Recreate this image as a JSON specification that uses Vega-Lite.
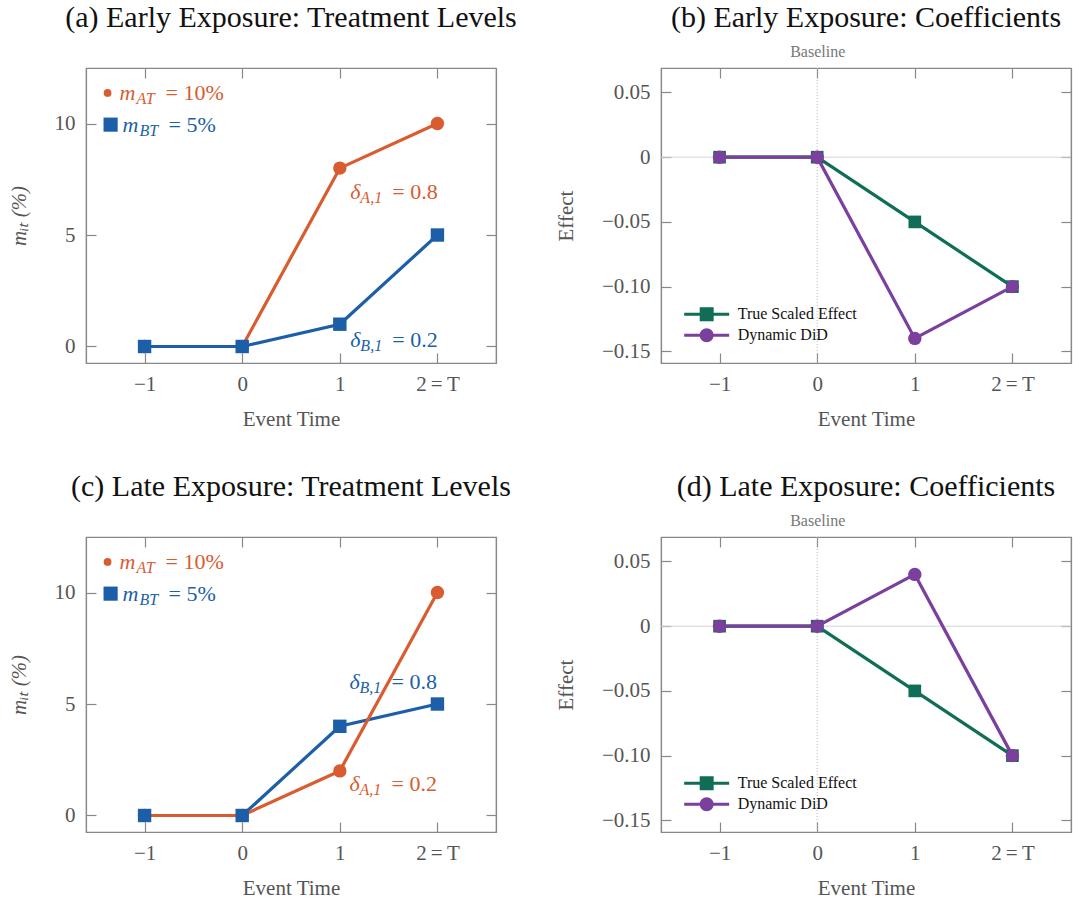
{
  "$schema": "https://vega.github.io/schema/vega-lite/v6.json",
  "background": "white",
  "padding": {"left": 7, "top": 2, "right": 2, "bottom": 2},
  "datasets": {
    "lines": [
      {"panel": "a", "series": "A", "t": -1, "v": 0},
      {"panel": "a", "series": "A", "t": 0, "v": 0},
      {"panel": "a", "series": "A", "t": 1, "v": 8},
      {"panel": "a", "series": "A", "t": 2, "v": 10},
      {"panel": "a", "series": "B", "t": -1, "v": 0},
      {"panel": "a", "series": "B", "t": 0, "v": 0},
      {"panel": "a", "series": "B", "t": 1, "v": 1},
      {"panel": "a", "series": "B", "t": 2, "v": 5},
      {"panel": "c", "series": "A", "t": -1, "v": 0},
      {"panel": "c", "series": "A", "t": 0, "v": 0},
      {"panel": "c", "series": "A", "t": 1, "v": 2},
      {"panel": "c", "series": "A", "t": 2, "v": 10},
      {"panel": "c", "series": "B", "t": -1, "v": 0},
      {"panel": "c", "series": "B", "t": 0, "v": 0},
      {"panel": "c", "series": "B", "t": 1, "v": 4},
      {"panel": "c", "series": "B", "t": 2, "v": 5},
      {"panel": "b", "series": "True Scaled Effect", "t": -1, "v": 0},
      {"panel": "b", "series": "True Scaled Effect", "t": 0, "v": 0},
      {"panel": "b", "series": "True Scaled Effect", "t": 1, "v": -0.05},
      {"panel": "b", "series": "True Scaled Effect", "t": 2, "v": -0.1},
      {"panel": "b", "series": "Dynamic DiD", "t": -1, "v": 0},
      {"panel": "b", "series": "Dynamic DiD", "t": 0, "v": 0},
      {"panel": "b", "series": "Dynamic DiD", "t": 1, "v": -0.14},
      {"panel": "b", "series": "Dynamic DiD", "t": 2, "v": -0.1},
      {"panel": "d", "series": "True Scaled Effect", "t": -1, "v": 0},
      {"panel": "d", "series": "True Scaled Effect", "t": 0, "v": 0},
      {"panel": "d", "series": "True Scaled Effect", "t": 1, "v": -0.05},
      {"panel": "d", "series": "True Scaled Effect", "t": 2, "v": -0.1},
      {"panel": "d", "series": "Dynamic DiD", "t": -1, "v": 0},
      {"panel": "d", "series": "Dynamic DiD", "t": 0, "v": 0},
      {"panel": "d", "series": "Dynamic DiD", "t": 1, "v": 0.04},
      {"panel": "d", "series": "Dynamic DiD", "t": 2, "v": -0.1}
    ],
    "notes": [
      {"panel": "a", "kind": "key", "grp": "A", "x": -1.379, "y": 11.37, "sym": "m", "sub": "AT", "rest": "= 10%"},
      {"panel": "a", "kind": "key", "grp": "B", "x": -1.348, "y": 9.95, "sym": "m", "sub": "BT", "rest": "= 5%"},
      {"panel": "a", "kind": "delta", "grp": "A", "x": 1.108, "y": 6.95, "sym": "δ", "sub": "A,1", "rest": "= 0.8"},
      {"panel": "a", "kind": "delta", "grp": "B", "x": 1.108, "y": 0.28, "sym": "δ", "sub": "B,1", "rest": "= 0.2"},
      {"panel": "c", "kind": "key", "grp": "A", "x": -1.379, "y": 11.37, "sym": "m", "sub": "AT", "rest": "= 10%"},
      {"panel": "c", "kind": "key", "grp": "B", "x": -1.348, "y": 9.95, "sym": "m", "sub": "BT", "rest": "= 5%"},
      {"panel": "c", "kind": "delta", "grp": "B", "x": 1.1, "y": 6.0, "sym": "δ", "sub": "B,1", "rest": "= 0.8"},
      {"panel": "c", "kind": "delta", "grp": "A", "x": 1.1, "y": 1.4, "sym": "δ", "sub": "A,1", "rest": "= 0.2"}
    ],
    "keys": [
      {"panel": "b", "series": "True Scaled Effect", "x": -1.132, "y": -0.1213},
      {"panel": "b", "series": "Dynamic DiD", "x": -1.132, "y": -0.1375},
      {"panel": "d", "series": "True Scaled Effect", "x": -1.132, "y": -0.1213},
      {"panel": "d", "series": "Dynamic DiD", "x": -1.132, "y": -0.1375}
    ],
    "origin": [{"ref": 0}]
  },
  "concat": [
    {
      "width": 410, "height": 295,
      "title": {"text": "(a) Early Exposure: Treatment Levels", "offset": 34},
      "layer": [
        {"data": {"name": "notes"}, "transform": [{"filter": "datum.panel == 'a' && datum.kind == 'key'"}],
         "mark": {"type": "text", "align": "left", "baseline": "middle", "fontSize": 22, "fontStyle": "italic", "dx": 12},
         "encoding": {"x": {"field": "x", "type": "quantitative", "scale": {"domain": [-1.6, 2.6], "nice": false, "zero": false}, "axis": null},
                      "y": {"field": "y", "type": "quantitative", "scale": {"domain": [-0.74, 12.49], "nice": false, "zero": false}, "axis": null},
                      "text": {"field": "sym"},
                      "color": {"field": "grp", "type": "nominal", "scale": {"domain": ["A", "B"], "range": ["#D95B30", "#1C5FA8"]}, "legend": null}}},
        {"data": {"name": "notes"}, "transform": [{"filter": "datum.panel == 'a' && datum.kind == 'key'"}],
         "mark": {"type": "text", "align": "left", "baseline": "middle", "fontSize": 16, "fontStyle": "italic", "dx": 29, "dy": 6},
         "encoding": {"x": {"field": "x", "type": "quantitative", "scale": {"domain": [-1.6, 2.6], "nice": false, "zero": false}, "axis": null},
                      "y": {"field": "y", "type": "quantitative", "scale": {"domain": [-0.74, 12.49], "nice": false, "zero": false}, "axis": null},
                      "text": {"field": "sub"},
                      "color": {"field": "grp", "type": "nominal", "scale": {"domain": ["A", "B"], "range": ["#D95B30", "#1C5FA8"]}, "legend": null}}},
        {"data": {"name": "notes"}, "transform": [{"filter": "datum.panel == 'a' && datum.kind == 'key'"}],
         "mark": {"type": "text", "align": "left", "baseline": "middle", "fontSize": 22, "dx": 58},
         "encoding": {"x": {"field": "x", "type": "quantitative", "scale": {"domain": [-1.6, 2.6], "nice": false, "zero": false}, "axis": null},
                      "y": {"field": "y", "type": "quantitative", "scale": {"domain": [-0.74, 12.49], "nice": false, "zero": false}, "axis": null},
                      "text": {"field": "rest"},
                      "color": {"field": "grp", "type": "nominal", "scale": {"domain": ["A", "B"], "range": ["#D95B30", "#1C5FA8"]}, "legend": null}}},
        {"data": {"name": "notes"}, "transform": [{"filter": "datum.panel == 'a' && datum.kind == 'delta'"}],
         "mark": {"type": "text", "align": "left", "baseline": "middle", "fontSize": 22, "fontStyle": "italic"},
         "encoding": {"x": {"field": "x", "type": "quantitative", "scale": {"domain": [-1.6, 2.6], "nice": false, "zero": false}, "axis": null},
                      "y": {"field": "y", "type": "quantitative", "scale": {"domain": [-0.74, 12.49], "nice": false, "zero": false}, "axis": null},
                      "text": {"field": "sym"},
                      "color": {"field": "grp", "type": "nominal", "scale": {"domain": ["A", "B"], "range": ["#D95B30", "#1C5FA8"]}, "legend": null}}},
        {"data": {"name": "notes"}, "transform": [{"filter": "datum.panel == 'a' && datum.kind == 'delta'"}],
         "mark": {"type": "text", "align": "left", "baseline": "middle", "fontSize": 16, "fontStyle": "italic", "dx": 10, "dy": 6},
         "encoding": {"x": {"field": "x", "type": "quantitative", "scale": {"domain": [-1.6, 2.6], "nice": false, "zero": false}, "axis": null},
                      "y": {"field": "y", "type": "quantitative", "scale": {"domain": [-0.74, 12.49], "nice": false, "zero": false}, "axis": null},
                      "text": {"field": "sub"},
                      "color": {"field": "grp", "type": "nominal", "scale": {"domain": ["A", "B"], "range": ["#D95B30", "#1C5FA8"]}, "legend": null}}},
        {"data": {"name": "notes"}, "transform": [{"filter": "datum.panel == 'a' && datum.kind == 'delta'"}],
         "mark": {"type": "text", "align": "left", "baseline": "middle", "fontSize": 22, "dx": 42},
         "encoding": {"x": {"field": "x", "type": "quantitative", "scale": {"domain": [-1.6, 2.6], "nice": false, "zero": false}, "axis": null},
                      "y": {"field": "y", "type": "quantitative", "scale": {"domain": [-0.74, 12.49], "nice": false, "zero": false}, "axis": null},
                      "text": {"field": "rest"},
                      "color": {"field": "grp", "type": "nominal", "scale": {"domain": ["A", "B"], "range": ["#D95B30", "#1C5FA8"]}, "legend": null}}},
        {"data": {"name": "notes"}, "transform": [{"filter": "datum.panel == 'a' && datum.kind == 'key' && datum.grp == 'A'"}],
         "mark": {"type": "point", "shape": "circle", "filled": true, "size": 60, "color": "#D95B30", "opacity": 1},
         "encoding": {"x": {"field": "x", "type": "quantitative", "scale": {"domain": [-1.6, 2.6], "nice": false, "zero": false}, "axis": null},
                      "y": {"field": "y", "type": "quantitative", "scale": {"domain": [-0.74, 12.49], "nice": false, "zero": false}, "axis": null}}},
        {"data": {"name": "notes"}, "transform": [{"filter": "datum.panel == 'a' && datum.kind == 'key' && datum.grp == 'B'"}],
         "mark": {"type": "point", "shape": "square", "filled": true, "size": 200, "color": "#1C5FA8", "opacity": 1},
         "encoding": {"x": {"field": "x", "type": "quantitative", "scale": {"domain": [-1.6, 2.6], "nice": false, "zero": false}, "axis": null},
                      "y": {"field": "y", "type": "quantitative", "scale": {"domain": [-0.74, 12.49], "nice": false, "zero": false}, "axis": null}}},
        {"data": {"name": "lines"}, "transform": [{"filter": "datum.panel == 'a' && datum.series == 'A'"}],
         "mark": {"type": "line", "color": "#D95B30", "strokeWidth": 3.2},
         "encoding": {"x": {"field": "t", "type": "quantitative", "scale": {"domain": [-1.6, 2.6], "nice": false, "zero": false}, "axis": {"orient": "bottom", "values": [-1, 0, 1, 2], "title": "Event Time", "labelExpr": "datum.value == 2 ? '2\u2009=\u2009T' : datum.label"}},
                      "y": {"field": "v", "type": "quantitative", "scale": {"domain": [-0.74, 12.49], "nice": false, "zero": false}, "axis": {"orient": "left", "values": [0, 5, 10], "title": "mᵢₜ (%)", "titleFontStyle": "italic"}}}},
        {"data": {"name": "lines"}, "transform": [{"filter": "datum.panel == 'a' && datum.series == 'A'"}],
         "mark": {"type": "point", "shape": "circle", "filled": true, "size": 180, "color": "#D95B30", "opacity": 1},
         "encoding": {"x": {"field": "t", "type": "quantitative", "scale": {"domain": [-1.6, 2.6], "nice": false, "zero": false}, "axis": null},
                      "y": {"field": "v", "type": "quantitative", "scale": {"domain": [-0.74, 12.49], "nice": false, "zero": false}, "axis": null}}},
        {"data": {"name": "lines"}, "transform": [{"filter": "datum.panel == 'a' && datum.series == 'B'"}],
         "mark": {"type": "line", "color": "#1C5FA8", "strokeWidth": 3.2},
         "encoding": {"x": {"field": "t", "type": "quantitative", "scale": {"domain": [-1.6, 2.6], "nice": false, "zero": false}, "axis": {"orient": "top", "values": [-1, 0, 1, 2], "labels": false, "title": null}},
                      "y": {"field": "v", "type": "quantitative", "scale": {"domain": [-0.74, 12.49], "nice": false, "zero": false}, "axis": {"orient": "right", "values": [0, 5, 10], "labels": false, "title": null}}}},
        {"data": {"name": "lines"}, "transform": [{"filter": "datum.panel == 'a' && datum.series == 'B'"}],
         "mark": {"type": "point", "shape": "square", "filled": true, "size": 180, "color": "#1C5FA8", "opacity": 1},
         "encoding": {"x": {"field": "t", "type": "quantitative", "scale": {"domain": [-1.6, 2.6], "nice": false, "zero": false}, "axis": null},
                      "y": {"field": "v", "type": "quantitative", "scale": {"domain": [-0.74, 12.49], "nice": false, "zero": false}, "axis": null}}}
      ],
      "resolve": {"axis": {"x": "independent", "y": "independent"}}
    },
    {
      "width": 410, "height": 295,
      "title": {"text": "(b) Early Exposure: Coefficients", "offset": 10},
      "layer": [
        {"data": {"name": "origin"},
         "mark": {"type": "rule", "color": "#d4d4d4", "strokeWidth": 1},
         "encoding": {"y": {"field": "ref", "type": "quantitative", "scale": {"domain": [-0.159, 0.0689], "nice": false, "zero": false}, "axis": null}}},
        {"data": {"name": "origin"},
         "mark": {"type": "rule", "color": "#b8b8b8", "strokeWidth": 1, "strokeDash": [1, 2]},
         "encoding": {"x": {"field": "ref", "type": "quantitative", "scale": {"domain": [-1.6, 2.6], "nice": false, "zero": false}, "axis": null}}},
        {"data": {"name": "lines"}, "transform": [{"filter": "datum.panel == 'b' && datum.series == 'True Scaled Effect'"}],
         "mark": {"type": "line", "color": "#0F6E55", "strokeWidth": 3.2},
         "encoding": {"x": {"field": "t", "type": "quantitative", "scale": {"domain": [-1.6, 2.6], "nice": false, "zero": false}, "axis": {"orient": "bottom", "values": [-1, 0, 1, 2], "title": "Event Time", "labelExpr": "datum.value == 2 ? '2\u2009=\u2009T' : datum.label"}},
                      "y": {"field": "v", "type": "quantitative", "scale": {"domain": [-0.159, 0.0689], "nice": false, "zero": false}, "axis": {"orient": "left", "values": [-0.15, -0.1, -0.05, 0, 0.05], "title": "Effect", "labelExpr": "datum.value == 0 ? '0' : format(datum.value, '.2f')"}}}},
        {"data": {"name": "lines"}, "transform": [{"filter": "datum.panel == 'b' && datum.series == 'True Scaled Effect'"}],
         "mark": {"type": "point", "shape": "square", "filled": true, "size": 160, "color": "#0F6E55", "opacity": 1},
         "encoding": {"x": {"field": "t", "type": "quantitative", "scale": {"domain": [-1.6, 2.6], "nice": false, "zero": false}, "axis": null},
                      "y": {"field": "v", "type": "quantitative", "scale": {"domain": [-0.159, 0.0689], "nice": false, "zero": false}, "axis": null}}},
        {"data": {"name": "lines"}, "transform": [{"filter": "datum.panel == 'b' && datum.series == 'Dynamic DiD'"}],
         "mark": {"type": "line", "color": "#7B3F9E", "strokeWidth": 3.2},
         "encoding": {"x": {"field": "t", "type": "quantitative", "scale": {"domain": [-1.6, 2.6], "nice": false, "zero": false}, "axis": {"orient": "top", "values": [-1, 0, 1, 2], "title": null, "labelExpr": "datum.value == 0 ? 'Baseline' : ''", "labelFontSize": 16, "labelColor": "#777777", "labelPadding": 19}},
                      "y": {"field": "v", "type": "quantitative", "scale": {"domain": [-0.159, 0.0689], "nice": false, "zero": false}, "axis": {"orient": "right", "values": [-0.15, -0.1, -0.05, 0, 0.05], "labels": false, "title": null}}}},
        {"data": {"name": "lines"}, "transform": [{"filter": "datum.panel == 'b' && datum.series == 'Dynamic DiD'"}],
         "mark": {"type": "point", "shape": "circle", "filled": true, "size": 180, "color": "#7B3F9E", "opacity": 1},
         "encoding": {"x": {"field": "t", "type": "quantitative", "scale": {"domain": [-1.6, 2.6], "nice": false, "zero": false}, "axis": null},
                      "y": {"field": "v", "type": "quantitative", "scale": {"domain": [-0.159, 0.0689], "nice": false, "zero": false}, "axis": null}}},
        {"data": {"name": "keys"}, "transform": [{"filter": "datum.panel == 'b' && datum.series == 'True Scaled Effect'"}],
         "mark": {"type": "point", "filled": true, "size": 2025, "opacity": 1, "strokeWidth": 0, "color": "#0F6E55", "shape": "M-1,-0.067H1V0.067H-1Z M-0.31,-0.31H0.31V0.31H-0.31Z"},
         "encoding": {"x": {"field": "x", "type": "quantitative", "scale": {"domain": [-1.6, 2.6], "nice": false, "zero": false}, "axis": null},
                      "y": {"field": "y", "type": "quantitative", "scale": {"domain": [-0.159, 0.0689], "nice": false, "zero": false}, "axis": null}}},
        {"data": {"name": "keys"}, "transform": [{"filter": "datum.panel == 'b' && datum.series == 'Dynamic DiD'"}],
         "mark": {"type": "point", "filled": true, "size": 2025, "opacity": 1, "strokeWidth": 0, "color": "#7B3F9E", "shape": "M-1,-0.067H1V0.067H-1Z M-0.31,0A0.31,0.31 0 1,1 0.31,0A0.31,0.31 0 1,1 -0.31,0Z"},
         "encoding": {"x": {"field": "x", "type": "quantitative", "scale": {"domain": [-1.6, 2.6], "nice": false, "zero": false}, "axis": null},
                      "y": {"field": "y", "type": "quantitative", "scale": {"domain": [-0.159, 0.0689], "nice": false, "zero": false}, "axis": null}}},
        {"data": {"name": "keys"}, "transform": [{"filter": "datum.panel == 'b'"}],
         "mark": {"type": "text", "align": "left", "baseline": "middle", "fontSize": 16, "color": "#111111", "dx": 31},
         "encoding": {"x": {"field": "x", "type": "quantitative", "scale": {"domain": [-1.6, 2.6], "nice": false, "zero": false}, "axis": null},
                      "y": {"field": "y", "type": "quantitative", "scale": {"domain": [-0.159, 0.0689], "nice": false, "zero": false}, "axis": null},
                      "text": {"field": "series"}}}
      ],
      "resolve": {"axis": {"x": "independent", "y": "independent"}}
    },
    {
      "width": 410, "height": 295,
      "title": {"text": "(c) Late Exposure: Treatment Levels", "offset": 34},
      "layer": [
        {"data": {"name": "notes"}, "transform": [{"filter": "datum.panel == 'c' && datum.kind == 'key'"}],
         "mark": {"type": "text", "align": "left", "baseline": "middle", "fontSize": 22, "fontStyle": "italic", "dx": 12},
         "encoding": {"x": {"field": "x", "type": "quantitative", "scale": {"domain": [-1.6, 2.6], "nice": false, "zero": false}, "axis": null},
                      "y": {"field": "y", "type": "quantitative", "scale": {"domain": [-0.74, 12.49], "nice": false, "zero": false}, "axis": null},
                      "text": {"field": "sym"},
                      "color": {"field": "grp", "type": "nominal", "scale": {"domain": ["A", "B"], "range": ["#D95B30", "#1C5FA8"]}, "legend": null}}},
        {"data": {"name": "notes"}, "transform": [{"filter": "datum.panel == 'c' && datum.kind == 'key'"}],
         "mark": {"type": "text", "align": "left", "baseline": "middle", "fontSize": 16, "fontStyle": "italic", "dx": 29, "dy": 6},
         "encoding": {"x": {"field": "x", "type": "quantitative", "scale": {"domain": [-1.6, 2.6], "nice": false, "zero": false}, "axis": null},
                      "y": {"field": "y", "type": "quantitative", "scale": {"domain": [-0.74, 12.49], "nice": false, "zero": false}, "axis": null},
                      "text": {"field": "sub"},
                      "color": {"field": "grp", "type": "nominal", "scale": {"domain": ["A", "B"], "range": ["#D95B30", "#1C5FA8"]}, "legend": null}}},
        {"data": {"name": "notes"}, "transform": [{"filter": "datum.panel == 'c' && datum.kind == 'key'"}],
         "mark": {"type": "text", "align": "left", "baseline": "middle", "fontSize": 22, "dx": 58},
         "encoding": {"x": {"field": "x", "type": "quantitative", "scale": {"domain": [-1.6, 2.6], "nice": false, "zero": false}, "axis": null},
                      "y": {"field": "y", "type": "quantitative", "scale": {"domain": [-0.74, 12.49], "nice": false, "zero": false}, "axis": null},
                      "text": {"field": "rest"},
                      "color": {"field": "grp", "type": "nominal", "scale": {"domain": ["A", "B"], "range": ["#D95B30", "#1C5FA8"]}, "legend": null}}},
        {"data": {"name": "notes"}, "transform": [{"filter": "datum.panel == 'c' && datum.kind == 'delta'"}],
         "mark": {"type": "text", "align": "left", "baseline": "middle", "fontSize": 22, "fontStyle": "italic"},
         "encoding": {"x": {"field": "x", "type": "quantitative", "scale": {"domain": [-1.6, 2.6], "nice": false, "zero": false}, "axis": null},
                      "y": {"field": "y", "type": "quantitative", "scale": {"domain": [-0.74, 12.49], "nice": false, "zero": false}, "axis": null},
                      "text": {"field": "sym"},
                      "color": {"field": "grp", "type": "nominal", "scale": {"domain": ["A", "B"], "range": ["#D95B30", "#1C5FA8"]}, "legend": null}}},
        {"data": {"name": "notes"}, "transform": [{"filter": "datum.panel == 'c' && datum.kind == 'delta'"}],
         "mark": {"type": "text", "align": "left", "baseline": "middle", "fontSize": 16, "fontStyle": "italic", "dx": 10, "dy": 6},
         "encoding": {"x": {"field": "x", "type": "quantitative", "scale": {"domain": [-1.6, 2.6], "nice": false, "zero": false}, "axis": null},
                      "y": {"field": "y", "type": "quantitative", "scale": {"domain": [-0.74, 12.49], "nice": false, "zero": false}, "axis": null},
                      "text": {"field": "sub"},
                      "color": {"field": "grp", "type": "nominal", "scale": {"domain": ["A", "B"], "range": ["#D95B30", "#1C5FA8"]}, "legend": null}}},
        {"data": {"name": "notes"}, "transform": [{"filter": "datum.panel == 'c' && datum.kind == 'delta'"}],
         "mark": {"type": "text", "align": "left", "baseline": "middle", "fontSize": 22, "dx": 42},
         "encoding": {"x": {"field": "x", "type": "quantitative", "scale": {"domain": [-1.6, 2.6], "nice": false, "zero": false}, "axis": null},
                      "y": {"field": "y", "type": "quantitative", "scale": {"domain": [-0.74, 12.49], "nice": false, "zero": false}, "axis": null},
                      "text": {"field": "rest"},
                      "color": {"field": "grp", "type": "nominal", "scale": {"domain": ["A", "B"], "range": ["#D95B30", "#1C5FA8"]}, "legend": null}}},
        {"data": {"name": "notes"}, "transform": [{"filter": "datum.panel == 'c' && datum.kind == 'key' && datum.grp == 'A'"}],
         "mark": {"type": "point", "shape": "circle", "filled": true, "size": 60, "color": "#D95B30", "opacity": 1},
         "encoding": {"x": {"field": "x", "type": "quantitative", "scale": {"domain": [-1.6, 2.6], "nice": false, "zero": false}, "axis": null},
                      "y": {"field": "y", "type": "quantitative", "scale": {"domain": [-0.74, 12.49], "nice": false, "zero": false}, "axis": null}}},
        {"data": {"name": "notes"}, "transform": [{"filter": "datum.panel == 'c' && datum.kind == 'key' && datum.grp == 'B'"}],
         "mark": {"type": "point", "shape": "square", "filled": true, "size": 200, "color": "#1C5FA8", "opacity": 1},
         "encoding": {"x": {"field": "x", "type": "quantitative", "scale": {"domain": [-1.6, 2.6], "nice": false, "zero": false}, "axis": null},
                      "y": {"field": "y", "type": "quantitative", "scale": {"domain": [-0.74, 12.49], "nice": false, "zero": false}, "axis": null}}},
        {"data": {"name": "lines"}, "transform": [{"filter": "datum.panel == 'c' && datum.series == 'B'"}],
         "mark": {"type": "line", "color": "#1C5FA8", "strokeWidth": 3.2},
         "encoding": {"x": {"field": "t", "type": "quantitative", "scale": {"domain": [-1.6, 2.6], "nice": false, "zero": false}, "axis": {"orient": "top", "values": [-1, 0, 1, 2], "labels": false, "title": null}},
                      "y": {"field": "v", "type": "quantitative", "scale": {"domain": [-0.74, 12.49], "nice": false, "zero": false}, "axis": {"orient": "right", "values": [0, 5, 10], "labels": false, "title": null}}}},
        {"data": {"name": "lines"}, "transform": [{"filter": "datum.panel == 'c' && datum.series == 'A'"}],
         "mark": {"type": "line", "color": "#D95B30", "strokeWidth": 3.2},
         "encoding": {"x": {"field": "t", "type": "quantitative", "scale": {"domain": [-1.6, 2.6], "nice": false, "zero": false}, "axis": {"orient": "bottom", "values": [-1, 0, 1, 2], "title": "Event Time", "labelExpr": "datum.value == 2 ? '2\u2009=\u2009T' : datum.label"}},
                      "y": {"field": "v", "type": "quantitative", "scale": {"domain": [-0.74, 12.49], "nice": false, "zero": false}, "axis": {"orient": "left", "values": [0, 5, 10], "title": "mᵢₜ (%)", "titleFontStyle": "italic"}}}},
        {"data": {"name": "lines"}, "transform": [{"filter": "datum.panel == 'c' && datum.series == 'A'"}],
         "mark": {"type": "point", "shape": "circle", "filled": true, "size": 180, "color": "#D95B30", "opacity": 1},
         "encoding": {"x": {"field": "t", "type": "quantitative", "scale": {"domain": [-1.6, 2.6], "nice": false, "zero": false}, "axis": null},
                      "y": {"field": "v", "type": "quantitative", "scale": {"domain": [-0.74, 12.49], "nice": false, "zero": false}, "axis": null}}},
        {"data": {"name": "lines"}, "transform": [{"filter": "datum.panel == 'c' && datum.series == 'B'"}],
         "mark": {"type": "point", "shape": "square", "filled": true, "size": 180, "color": "#1C5FA8", "opacity": 1},
         "encoding": {"x": {"field": "t", "type": "quantitative", "scale": {"domain": [-1.6, 2.6], "nice": false, "zero": false}, "axis": null},
                      "y": {"field": "v", "type": "quantitative", "scale": {"domain": [-0.74, 12.49], "nice": false, "zero": false}, "axis": null}}}
      ],
      "resolve": {"axis": {"x": "independent", "y": "independent"}}
    },
    {
      "width": 410, "height": 295,
      "title": {"text": "(d) Late Exposure: Coefficients", "offset": 10},
      "layer": [
        {"data": {"name": "origin"},
         "mark": {"type": "rule", "color": "#d4d4d4", "strokeWidth": 1},
         "encoding": {"y": {"field": "ref", "type": "quantitative", "scale": {"domain": [-0.159, 0.0689], "nice": false, "zero": false}, "axis": null}}},
        {"data": {"name": "origin"},
         "mark": {"type": "rule", "color": "#b8b8b8", "strokeWidth": 1, "strokeDash": [1, 2]},
         "encoding": {"x": {"field": "ref", "type": "quantitative", "scale": {"domain": [-1.6, 2.6], "nice": false, "zero": false}, "axis": null}}},
        {"data": {"name": "lines"}, "transform": [{"filter": "datum.panel == 'd' && datum.series == 'True Scaled Effect'"}],
         "mark": {"type": "line", "color": "#0F6E55", "strokeWidth": 3.2},
         "encoding": {"x": {"field": "t", "type": "quantitative", "scale": {"domain": [-1.6, 2.6], "nice": false, "zero": false}, "axis": {"orient": "bottom", "values": [-1, 0, 1, 2], "title": "Event Time", "labelExpr": "datum.value == 2 ? '2\u2009=\u2009T' : datum.label"}},
                      "y": {"field": "v", "type": "quantitative", "scale": {"domain": [-0.159, 0.0689], "nice": false, "zero": false}, "axis": {"orient": "left", "values": [-0.15, -0.1, -0.05, 0, 0.05], "title": "Effect", "labelExpr": "datum.value == 0 ? '0' : format(datum.value, '.2f')"}}}},
        {"data": {"name": "lines"}, "transform": [{"filter": "datum.panel == 'd' && datum.series == 'True Scaled Effect'"}],
         "mark": {"type": "point", "shape": "square", "filled": true, "size": 160, "color": "#0F6E55", "opacity": 1},
         "encoding": {"x": {"field": "t", "type": "quantitative", "scale": {"domain": [-1.6, 2.6], "nice": false, "zero": false}, "axis": null},
                      "y": {"field": "v", "type": "quantitative", "scale": {"domain": [-0.159, 0.0689], "nice": false, "zero": false}, "axis": null}}},
        {"data": {"name": "lines"}, "transform": [{"filter": "datum.panel == 'd' && datum.series == 'Dynamic DiD'"}],
         "mark": {"type": "line", "color": "#7B3F9E", "strokeWidth": 3.2},
         "encoding": {"x": {"field": "t", "type": "quantitative", "scale": {"domain": [-1.6, 2.6], "nice": false, "zero": false}, "axis": {"orient": "top", "values": [-1, 0, 1, 2], "title": null, "labelExpr": "datum.value == 0 ? 'Baseline' : ''", "labelFontSize": 16, "labelColor": "#777777", "labelPadding": 19}},
                      "y": {"field": "v", "type": "quantitative", "scale": {"domain": [-0.159, 0.0689], "nice": false, "zero": false}, "axis": {"orient": "right", "values": [-0.15, -0.1, -0.05, 0, 0.05], "labels": false, "title": null}}}},
        {"data": {"name": "lines"}, "transform": [{"filter": "datum.panel == 'd' && datum.series == 'Dynamic DiD'"}],
         "mark": {"type": "point", "shape": "circle", "filled": true, "size": 180, "color": "#7B3F9E", "opacity": 1},
         "encoding": {"x": {"field": "t", "type": "quantitative", "scale": {"domain": [-1.6, 2.6], "nice": false, "zero": false}, "axis": null},
                      "y": {"field": "v", "type": "quantitative", "scale": {"domain": [-0.159, 0.0689], "nice": false, "zero": false}, "axis": null}}},
        {"data": {"name": "keys"}, "transform": [{"filter": "datum.panel == 'd' && datum.series == 'True Scaled Effect'"}],
         "mark": {"type": "point", "filled": true, "size": 2025, "opacity": 1, "strokeWidth": 0, "color": "#0F6E55", "shape": "M-1,-0.067H1V0.067H-1Z M-0.31,-0.31H0.31V0.31H-0.31Z"},
         "encoding": {"x": {"field": "x", "type": "quantitative", "scale": {"domain": [-1.6, 2.6], "nice": false, "zero": false}, "axis": null},
                      "y": {"field": "y", "type": "quantitative", "scale": {"domain": [-0.159, 0.0689], "nice": false, "zero": false}, "axis": null}}},
        {"data": {"name": "keys"}, "transform": [{"filter": "datum.panel == 'd' && datum.series == 'Dynamic DiD'"}],
         "mark": {"type": "point", "filled": true, "size": 2025, "opacity": 1, "strokeWidth": 0, "color": "#7B3F9E", "shape": "M-1,-0.067H1V0.067H-1Z M-0.31,0A0.31,0.31 0 1,1 0.31,0A0.31,0.31 0 1,1 -0.31,0Z"},
         "encoding": {"x": {"field": "x", "type": "quantitative", "scale": {"domain": [-1.6, 2.6], "nice": false, "zero": false}, "axis": null},
                      "y": {"field": "y", "type": "quantitative", "scale": {"domain": [-0.159, 0.0689], "nice": false, "zero": false}, "axis": null}}},
        {"data": {"name": "keys"}, "transform": [{"filter": "datum.panel == 'd'"}],
         "mark": {"type": "text", "align": "left", "baseline": "middle", "fontSize": 16, "color": "#111111", "dx": 31},
         "encoding": {"x": {"field": "x", "type": "quantitative", "scale": {"domain": [-1.6, 2.6], "nice": false, "zero": false}, "axis": null},
                      "y": {"field": "y", "type": "quantitative", "scale": {"domain": [-0.159, 0.0689], "nice": false, "zero": false}, "axis": null},
                      "text": {"field": "series"}}}
      ],
      "resolve": {"axis": {"x": "independent", "y": "independent"}}
    }
  ],
  "columns": 2,
  "spacing": {"row": 174, "column": 165},
  "bounds": "flush",
  "config": {
    "font": "Liberation Serif",
    "view": {"stroke": "#888888", "strokeWidth": 1.2},
    "axis": {"grid": false, "domainColor": "#888888", "domainWidth": 1.2, "tickColor": "#888888", "tickWidth": 1.2, "tickSize": -10,
             "labelFont": "Liberation Serif", "labelFontSize": 21, "labelColor": "#555555", "labelPadding": 20,
             "titleFont": "Liberation Serif", "titleFontSize": 21, "titleFontWeight": "normal", "titleColor": "#555555"},
    "axisX": {"titlePadding": 14},
    "axisY": {"titlePadding": 25, "labelPadding": 21},
    "text": {"font": "Liberation Serif"},
    "title": {"font": "Liberation Serif", "fontSize": 30, "fontWeight": "normal", "color": "#111111", "frame": "group", "anchor": "middle"}
  }
}
